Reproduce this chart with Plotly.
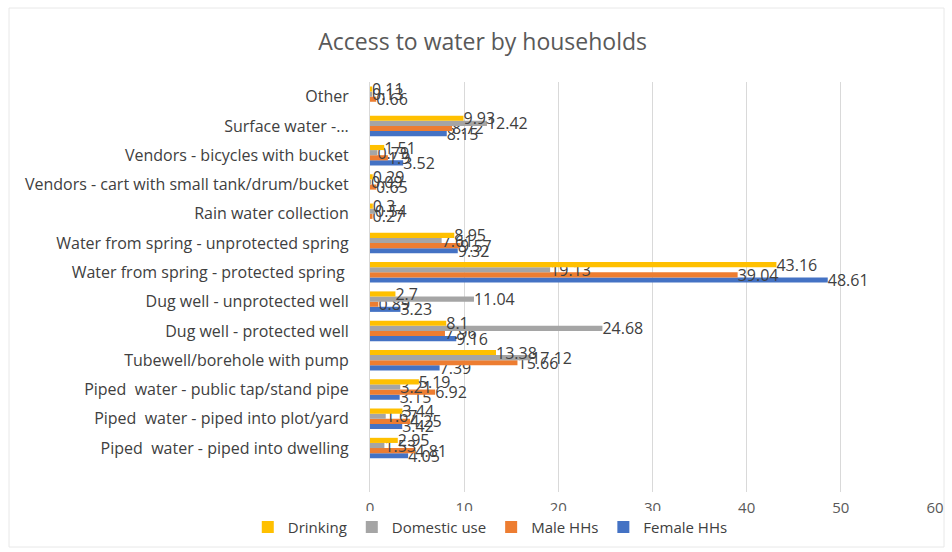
import plotly.graph_objects as go

# Water sources, listed bottom to top as they appear on the axis
sources = [
    "Piped  water - piped into dwelling",
    "Piped  water - piped into plot/yard",
    "Piped  water - public tap/stand pipe",
    "Tubewell/borehole with pump",
    "Dug well - protected well",
    "Dug well - unprotected well",
    "Water from spring - protected spring ",
    "Water from spring - unprotected spring",
    "Rain water collection",
    "Vendors - cart with small tank/drum/bucket",
    "Vendors - bicycles with bucket",
    "Surface water -...",
    "Other",
]

drinking = [2.95, 3.44, 5.19, 13.38, 8.1, 2.7, 43.16, 8.95, 0.3, 0.29, 1.51, 9.93, 0.11]
domestic = [1.53, 1.67, 3.21, 17.12, 24.68, 11.04, 19.13, 7.61, 0.54, 0.09, 0.79, 12.42, 0.13]
male_hhs = [4.81, 4.25, 6.92, 15.66, 7.96, 0.89, 39.04, 9.57, 0.27, 0.65, 1.9, 8.72, 0.66]
female_hhs = [4.05, 3.42, 3.15, 7.39, 9.16, 3.23, 48.61, 9.32, None, None, 3.52, 8.15, None]

x_ticks = [0, 10, 20, 30, 40, 50, 60]

FONT = "Open Sans"
TEXT = "#404040"

series = [
    ("Female HHs", female_hhs, "#4472C4"),
    ("Male HHs", male_hhs, "#ED7D31"),
    ("Domestic use", domestic, "#A5A5A5"),
    ("Drinking", drinking, "#FFC000"),
]

fig = go.Figure()
for name, vals, color in series:
    fig.add_trace(go.Bar(
        y=sources,
        x=vals,
        name=name,
        orientation="h",
        marker=dict(color=color, line=dict(width=0)),
        text=[("" if v is None else f"{v:g}") for v in vals],
        textposition="outside",
        constraintext="none",
        textfont=dict(family=FONT, size=16, color=TEXT),
        cliponaxis=False,
    ))

fig.update_layout(
    width=952,
    height=552,
    barmode="group",
    bargap=0.3,
    bargroupgap=0,
    paper_bgcolor="white",
    plot_bgcolor="white",
    font=dict(family=FONT, color=TEXT),
    title=dict(
        text="Access to water by households",
        x=0.507,
        xanchor="center",
        xref="container",
        y=0.924,
        yanchor="middle",
        font=dict(family=FONT, size=23, color="#595959"),
    ),
    margin=dict(l=370, r=17, t=82, b=60, autoexpand=False),
    showlegend=True,
    legend=dict(
        orientation="h",
        x=0.515,
        xanchor="center",
        xref="container",
        y=0.045,
        yref="container",
        yanchor="middle",
        traceorder="reversed",
        font=dict(family=FONT, size=15, color=TEXT),
        itemwidth=30,
    ),
)

fig.update_xaxes(
    range=[0, 60],
    tickvals=x_ticks,
    showgrid=True,
    gridcolor="#D9D9D9",
    gridwidth=1,
    zeroline=False,
    showline=False,
    tickfont=dict(family=FONT, size=15, color="#595959"),
    ticks="",
    ticklabelstandoff=5,
)

fig.update_yaxes(
    type="category",
    categoryorder="array",
    categoryarray=sources,
    range=[-1.5, 12.5],
    showgrid=False,
    showline=True,
    linecolor="#D9D9D9",
    linewidth=1,
    ticks="",
    tickfont=dict(family=FONT, size=16, color=TEXT),
    ticklabelstandoff=17,
)

# Chart border
fig.add_shape(
    type="rect", xref="paper", yref="paper",
    x0=-361 / 565, x1=1 + 9 / 565, y0=-55 / 410, y1=1 + 74 / 410,
    line=dict(color="#E8E8E8", width=1),
    fillcolor="rgba(0,0,0,0)",
    layer="below",
)

fig.write_html("out.html")
